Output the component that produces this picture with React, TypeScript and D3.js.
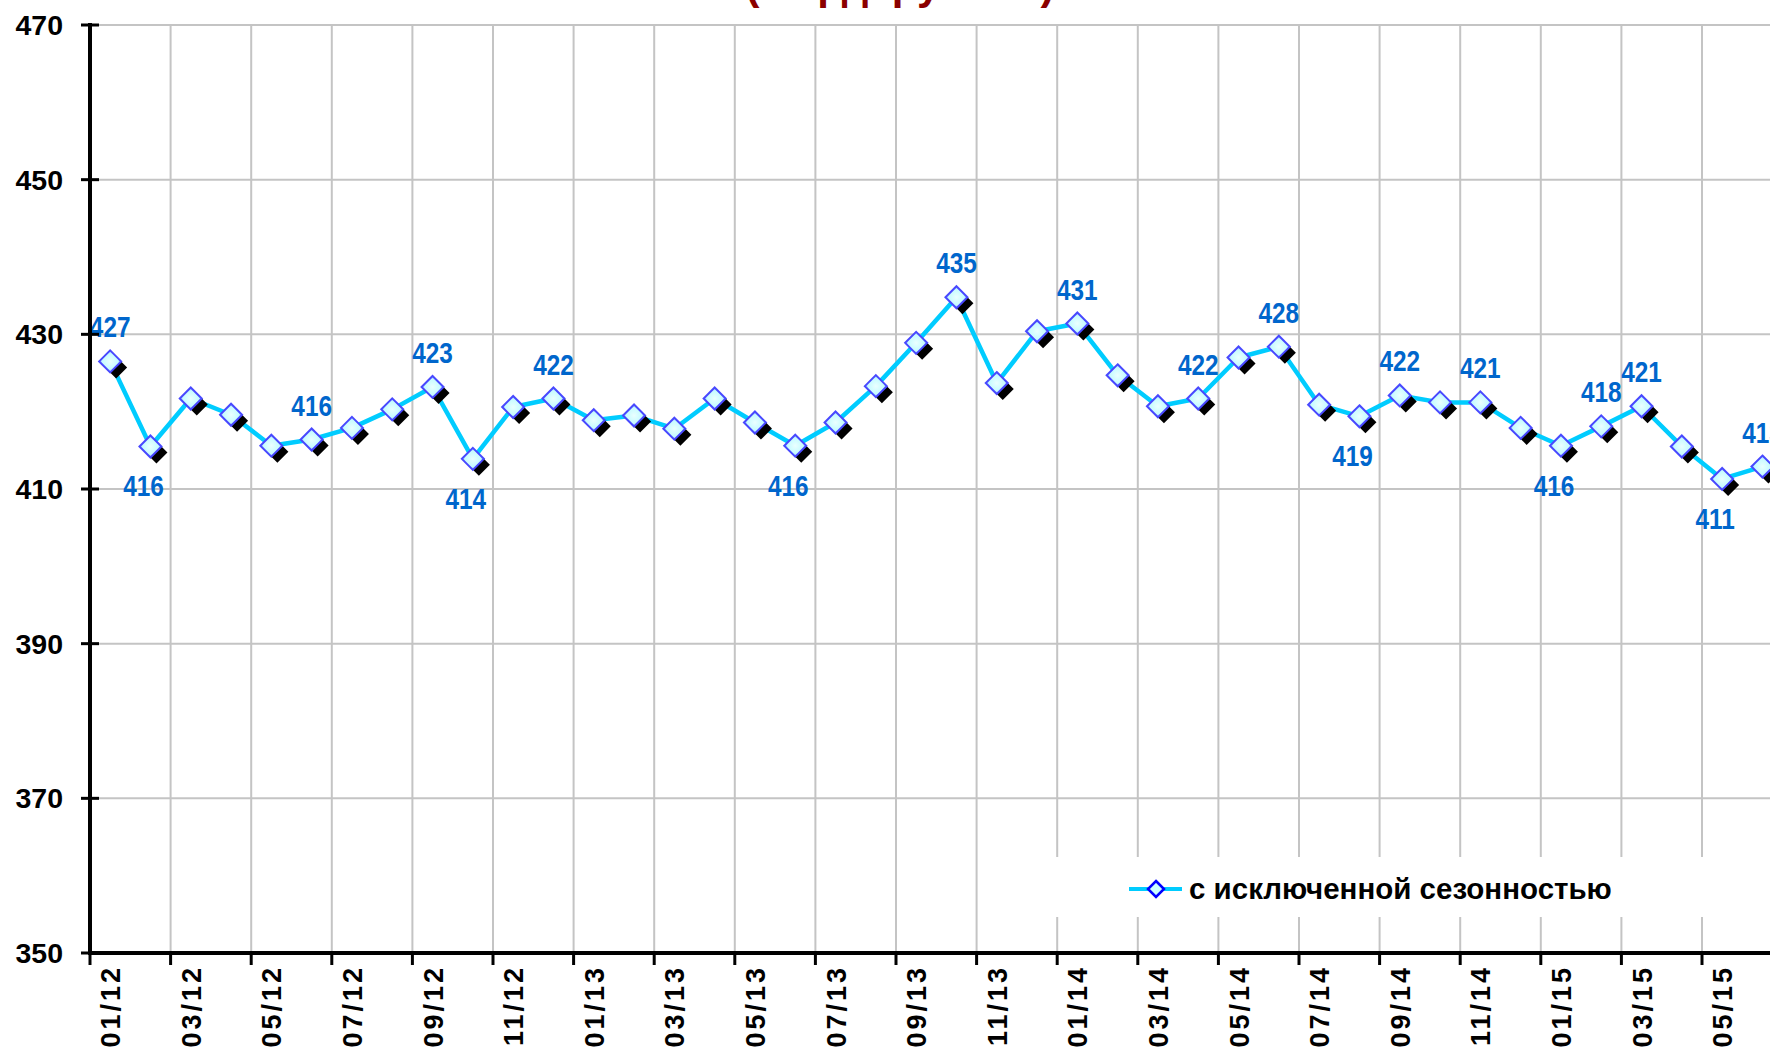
import React, { useEffect, useRef } from 'react'
import * as d3 from 'd3'

// months shown on the category axis (01/12 ... 06/15)
const months = [
  '01/12', '02/12', '03/12', '04/12', '05/12', '06/12', '07/12', '08/12', '09/12', '10/12', '11/12', '12/12',
  '01/13', '02/13', '03/13', '04/13', '05/13', '06/13', '07/13', '08/13', '09/13', '10/13', '11/13', '12/13',
  '01/14', '02/14', '03/14', '04/14', '05/14', '06/14', '07/14', '08/14', '09/14', '10/14', '11/14', '12/14',
  '01/15', '02/15', '03/15', '04/15', '05/15', '06/15',
]

// seasonally adjusted series
const seasonal = [
  426.5, 415.5, 421.7, 419.6, 415.6, 416.4, 417.9, 420.3, 423.2, 413.9, 420.6, 421.7,
  418.9, 419.5, 417.8, 421.7, 418.6, 415.6, 418.6, 423.3, 428.9, 434.8, 423.7, 430.4,
  431.4, 424.7, 420.7, 421.7, 427.0, 428.4, 420.9, 419.4, 422.1, 421.2, 421.2, 417.9,
  415.6, 418.1, 420.7, 415.5, 411.3, 412.9,
]

// which points carry a data label, and on which side
const labelAbove = [0, 5, 8, 11, 21, 24, 27, 29, 32, 34, 37, 38, 41]
const labelBelow = [1, 9, 17, 31, 36, 40]

const yTicks = [350, 370, 390, 410, 430, 450, 470]
const seriesName = 'с исключенной сезонностью'
const titleText = '(млрд. рублей)'

const W = 1770
const H = 1048

const App = () => {
  const ref = useRef<SVGSVGElement | null>(null)

  useEffect(() => {
    if (!ref.current) return
    const svg = d3.select(ref.current)
    svg.selectAll('*').remove()

    const left = 90
    const top = 25
    const bottom = 953
    const band = 40.3

    const x = d3.scaleBand<string>()
      .domain(months)
      .range([left, left + band * months.length])
      .padding(0)
    const y = d3.scaleLinear().domain([350, 470]).range([bottom, top])
    const cx = (m: string) => (x(m) as number) + x.bandwidth() / 2

    const font = '"Liberation Sans", Arial, sans-serif'

    svg.append('rect').attr('width', W).attr('height', H).attr('fill', '#fff')

    // title (mostly outside the picture)
    svg.append('text')
      .attr('x', 900)
      .attr('y', -1)
      .attr('text-anchor', 'middle')
      .style('font-family', font)
      .style('font-weight', 'bold')
      .style('font-size', '42px')
      .attr('fill', '#8b0000')
      .text(titleText)

    // gridlines
    const tickMonths = months.filter((_, i) => i % 2 === 0 && i > 0)
    const grid = svg.append('g').attr('stroke', '#c4c4c4').attr('stroke-width', 2)
    grid.selectAll('line.h')
      .data(yTicks.filter(v => v > 350))
      .enter()
      .append('line')
      .attr('x1', left)
      .attr('x2', W)
      .attr('y1', d => y(d))
      .attr('y2', d => y(d))
    grid.selectAll('line.v')
      .data(tickMonths)
      .enter()
      .append('line')
      .attr('x1', d => x(d) as number)
      .attr('x2', d => x(d) as number)
      .attr('y1', top)
      .attr('y2', bottom)

    // series line
    const line = d3.line<number>()
      .x((_, i) => cx(months[i]))
      .y(d => y(d))
    svg.append('path')
      .datum(seasonal)
      .attr('d', line)
      .attr('fill', 'none')
      .attr('stroke', '#00ccff')
      .attr('stroke-width', 4.5)
      .attr('stroke-linejoin', 'round')

    // markers with shadow
    const r = 11
    const diamond = `M0,${-r}L${r},0L0,${r}L${-r},0Z`
    svg.append('g')
      .selectAll('path')
      .data(seasonal)
      .enter()
      .append('path')
      .attr('d', diamond)
      .attr('transform', (d, i) => `translate(${cx(months[i]) + 6},${y(d) + 6})`)
      .attr('fill', '#000')

    const defs = svg.append('defs')
    const grad = defs.append('radialGradient').attr('id', 'mk')
    grad.append('stop').attr('offset', '0%').attr('stop-color', '#eaffff')
    grad.append('stop').attr('offset', '70%').attr('stop-color', '#c6fbff')
    grad.append('stop').attr('offset', '100%').attr('stop-color', '#8fb8ff')

    svg.append('g')
      .selectAll('path')
      .data(seasonal)
      .enter()
      .append('path')
      .attr('d', diamond)
      .attr('transform', (d, i) => `translate(${cx(months[i])},${y(d)})`)
      .attr('fill', 'url(#mk)')
      .attr('stroke', '#4848ff')
      .attr('stroke-width', 2)

    // data labels (condensed bold)
    const lbl = svg.append('g')
      .style('font-family', font)
      .style('font-weight', 'bold')
      .style('font-size', '29px')
      .attr('fill', '#0066cc')
      .attr('text-anchor', 'middle')
    lbl.selectAll('text.a')
      .data(labelAbove)
      .enter()
      .append('text')
      .attr('transform', i => `translate(${cx(months[i])},${y(seasonal[i]) - 24}) scale(0.84,1)`)
      .text(i => Math.round(seasonal[i]))
    lbl.selectAll('text.b')
      .data(labelBelow)
      .enter()
      .append('text')
      .attr('transform', i => `translate(${cx(months[i]) - 7},${y(seasonal[i]) + 50}) scale(0.84,1)`)
      .text(i => Math.round(seasonal[i]))

    // legend
    const lg = svg.append('g')
    lg.append('rect').attr('x', 1035).attr('y', 857).attr('width', W - 1035).attr('height', 60).attr('fill', '#fff')
    lg.append('line')
      .attr('x1', 1129).attr('x2', 1182).attr('y1', 889).attr('y2', 889)
      .attr('stroke', '#00ccff').attr('stroke-width', 4)
    lg.append('path')
      .attr('d', `M0,-8L8,0L0,8L-8,0Z`)
      .attr('transform', 'translate(1156,889)')
      .attr('fill', '#ccffff')
      .attr('stroke', '#0000ff')
      .attr('stroke-width', 2.5)
    lg.append('text')
      .attr('x', 1189)
      .attr('y', 899)
      .style('font-family', font)
      .style('font-weight', 'bold')
      .style('font-size', '29.5px')
      .attr('fill', '#000')
      .text(seriesName)

    // y axis
    const ya = svg.append('g')
    ya.append('line')
      .attr('x1', left).attr('x2', left).attr('y1', top - 2).attr('y2', bottom + 2)
      .attr('stroke', '#000').attr('stroke-width', 4)
    ya.selectAll('line.t')
      .data(yTicks)
      .enter()
      .append('line')
      .attr('x1', left - 9).attr('x2', left + 9)
      .attr('y1', d => y(d)).attr('y2', d => y(d))
      .attr('stroke', '#000').attr('stroke-width', 3)
    ya.selectAll('text')
      .data(yTicks)
      .enter()
      .append('text')
      .attr('x', 63)
      .attr('y', d => y(d) + 10)
      .attr('text-anchor', 'end')
      .style('font-family', font)
      .style('font-weight', 'bold')
      .style('font-size', '28.5px')
      .text(d => d)

    // x axis
    const xa = svg.append('g')
    xa.append('line')
      .attr('x1', left - 2).attr('x2', W).attr('y1', bottom).attr('y2', bottom)
      .attr('stroke', '#000').attr('stroke-width', 4)
    xa.selectAll('line.t')
      .data([months[0], ...tickMonths])
      .enter()
      .append('line')
      .attr('x1', d => x(d) as number).attr('x2', d => x(d) as number)
      .attr('y1', bottom).attr('y2', bottom + 12)
      .attr('stroke', '#000').attr('stroke-width', 3)
    xa.selectAll('text')
      .data(months.filter((_, i) => i % 2 === 0))
      .enter()
      .append('text')
      .attr('transform', d => `translate(${cx(d) + 10},${bottom + 12}) rotate(-90)`)
      .attr('text-anchor', 'end')
      .style('font-family', font)
      .style('font-weight', 'bold')
      .style('font-size', '27px')
      .style('letter-spacing', '3px')
      .text(d => d)
  }, [])

  return (
    <svg
      ref={ref}
      width={W}
      height={H}
      style={{ position: 'absolute', left: 0, top: 0, display: 'block' }}
    />
  )
}

export default App
